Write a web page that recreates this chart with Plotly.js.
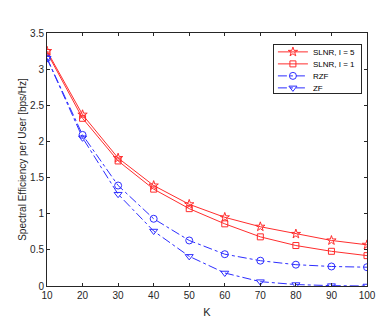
<!DOCTYPE html>
<html>
<head>
<meta charset="utf-8">
<script src="https://cdn.plot.ly/plotly-3.0.1.min.js"></script>
<style>
  html, body { margin: 0; padding: 0; background: #fff; }
  #chart { width: 390px; height: 327px; }
</style>
</head>
<body>
<div id="chart"></div>
<script>
'use strict';

var users = [10, 20, 30, 40, 50, 60, 70, 80, 90, 100];
var slnr5 = [3.25, 2.37, 1.77, 1.39, 1.13, 0.95, 0.82, 0.72, 0.63, 0.57];
var slnr1 = [3.23, 2.32, 1.73, 1.34, 1.07, 0.86, 0.68, 0.56, 0.48, 0.42];
var rzf = [3.15, 2.09, 1.39, 0.93, 0.63, 0.44, 0.35, 0.295, 0.27, 0.26];
var zf = [3.15, 2.05, 1.27, 0.76, 0.41, 0.18, 0.06, 0.02, 0.005, 0.0];

var xTicks = [10, 20, 30, 40, 50, 60, 70, 80, 90, 100];
var yTicks = [0, 0.5, 1, 1.5, 2, 2.5, 3, 3.5];

var red = 'rgb(255,45,45)'; // SLNR
var blue = 'rgb(45,45,255)'; // RZF / ZF

function makeTrace(y, name, color, symbol, size, dash) {
  return {
    x: users,
    y: y,
    name: name,
    mode: 'lines+markers',
    line: { color: color, width: 1, dash: dash },
    marker: { symbol: symbol, size: size, color: color, line: { color: color, width: 1 } }
  };
}

var data = [
  makeTrace(slnr5, 'SLNR, I = 5', red, 'star-open', 7, 'solid'),
  makeTrace(slnr1, 'SLNR, I = 1', red, 'square-open', 6, 'solid'),
  makeTrace(rzf, 'RZF', blue, 'circle-open', 7, 'dashdot'),
  makeTrace(zf, 'ZF', blue, 'triangle-down-open', 7, 'dashdot')
];

var axisStyle = {
  showline: true,
  linecolor: '#262626',
  linewidth: 1,
  mirror: 'ticks',
  ticks: 'inside',
  ticklen: 3,
  tickcolor: '#262626',
  showgrid: false,
  zeroline: false,
  tickfont: { size: 10, color: '#262626' }
};

var layout = {
  width: 390,
  height: 327,
  margin: { l: 47, r: 23, t: 33, b: 41 },
  paper_bgcolor: '#fff',
  plot_bgcolor: '#fff',
  font: { family: 'Liberation Sans, Arial, sans-serif', size: 10, color: '#262626' },
  showlegend: true,
  legend: {
    x: 0.706, y: 0.957, xanchor: 'left', yanchor: 'top',
    bordercolor: '#262626', borderwidth: 1, bgcolor: '#fff',
    font: { size: 8, color: '#000' },
    itemwidth: 30,
    tracegroupgap: 0
  },
  xaxis: Object.assign({}, axisStyle, {
    range: [10, 100],
    tickvals: xTicks,
    title: { text: 'K', font: { size: 11, color: '#262626' }, standoff: 8 }
  }),
  yaxis: Object.assign({}, axisStyle, {
    range: [0, 3.5],
    tickvals: yTicks,
    title: { text: 'Spectral Efficiency per User [bps/Hz]', font: { size: 10, color: '#262626' }, standoff: 1 }
  })
};

// squeeze the legend rows to the tighter spacing of the original figure
function tightenLegend(gd) {
  var rowGap = 12;
  var items = gd.querySelectorAll('.legend .traces');
  var widest = 0;
  items.forEach(function (item, i) {
    item.setAttribute('transform', 'translate(0,' + (8 + rowGap * i) + ')');
    var txt = item.querySelector('text.legendtext');
    if (txt) {
      var box = txt.getBBox();
      widest = Math.max(widest, box.x + box.width);
    }
  });
  var bg = gd.querySelector('.legend rect.bg');
  if (bg) {
    bg.setAttribute('height', rowGap * items.length + 1);
    bg.setAttribute('width', Math.ceil(widest + 5));
  }
}

Plotly.newPlot('chart', data, layout, { displayModeBar: false, staticPlot: true })
  .then(tightenLegend);
</script>
</body>
</html>
